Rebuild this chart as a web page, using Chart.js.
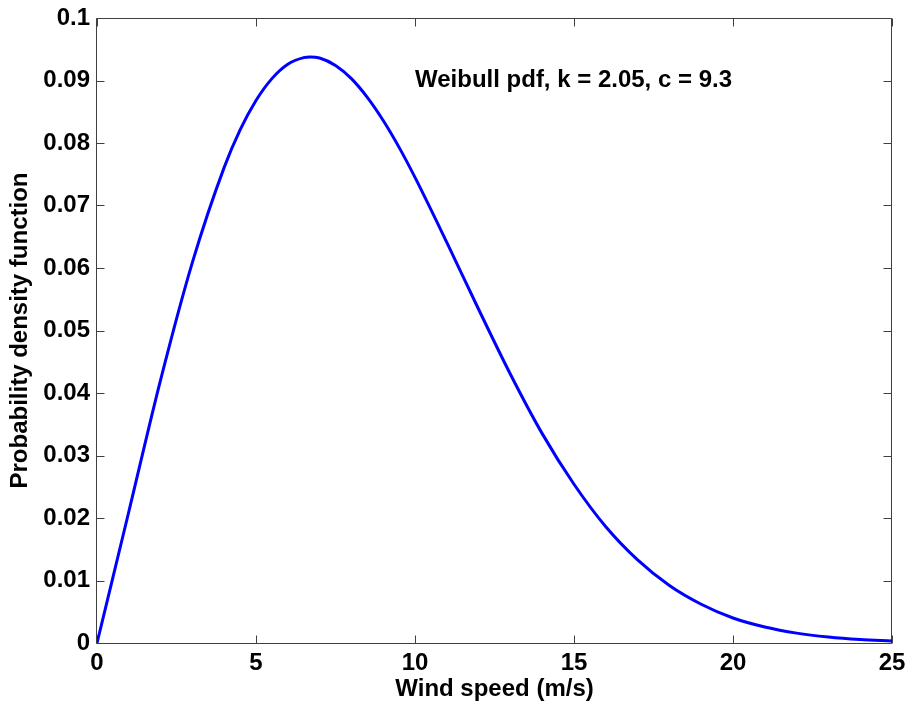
<!DOCTYPE html>
<html><head><meta charset="utf-8">
<script src="https://cdn.jsdelivr.net/npm/chart.js@4"></script>
<style>html,body{margin:0;padding:0;background:#fff;} #wrap{width:910px;height:708px;}</style>
</head><body><div id="wrap"><canvas id="c" width="910" height="708"></canvas></div>
<script>
// Wind speed (m/s) and probability density
const windSpeed = [0, 1, 2, 3, 4, 4.5, 5, 5.5, 6, 6.5, 6.7, 7, 7.5, 8, 8.5, 9, 9.5, 10, 11, 12, 13, 14, 15, 16, 17, 18, 19, 20, 21, 22, 23, 24, 25];
const pdfValues = [0, 0.0210, 0.0421, 0.0609, 0.0761, 0.0821, 0.0868, 0.0903, 0.0926, 0.09366, 0.09377, 0.0936, 0.0924, 0.0903, 0.0873, 0.0836, 0.0793, 0.0745, 0.0641, 0.0534, 0.0430, 0.0335, 0.0254, 0.0186, 0.0133, 0.0092, 0.0062, 0.0040, 0.00256, 0.00158, 0.00095, 0.00055, 0.00031];
const xTickLabels = ['0', '5', '10', '15', '20', '25'];
const yTickLabels = ['0', '0.01', '0.02', '0.03', '0.04', '0.05', '0.06', '0.07', '0.08', '0.09', '0.1'];
const xTitle = 'Wind speed (m/s)';
const yTitle = 'Probability density function';
const annotationText = 'Weibull pdf, k = 2.05, c = 9.3';
const annotationAt = [10, 0.09];

const FONT = {family: '"Liberation Sans", Arial, Helvetica, sans-serif', size: 24, weight: 'bold'};

const framePlugin = {
  id: 'frame',
  beforeDatasetsDraw(chart) {
    const {ctx, chartArea: {left, right, top, bottom}, scales: {x, y}} = chart;
    ctx.save();
    ctx.strokeStyle = '#404040';
    ctx.lineWidth = 1;
    const L = Math.round(left) - 0.5, R = Math.round(right) - 0.5, T = Math.round(top) + 0.5, B = Math.round(bottom) + 0.5;
    ctx.beginPath();
    ctx.rect(L, T, R - L, B - T);
    const tl = 8;
    x.ticks.forEach(t => {
      const px = Math.round(x.getPixelForValue(t.value)) + 0.5;
      ctx.moveTo(px, B); ctx.lineTo(px, B - tl);
      ctx.moveTo(px, T); ctx.lineTo(px, T + tl);
    });
    y.ticks.forEach(t => {
      const py = Math.round(y.getPixelForValue(t.value)) + 0.5;
      ctx.moveTo(L, py); ctx.lineTo(L + tl, py);
      ctx.moveTo(R, py); ctx.lineTo(R - tl, py);
    });
    ctx.stroke();
    ctx.restore();
  },
  afterDraw(chart) {
    const {ctx, scales: {x, y}} = chart;
    ctx.save();
    ctx.font = 'bold 24px "Liberation Sans", Arial, sans-serif';
    ctx.fillStyle = '#000';
    ctx.textAlign = 'left';
    ctx.textBaseline = 'middle';
    ctx.fillText(annotationText, x.getPixelForValue(annotationAt[0]), y.getPixelForValue(annotationAt[1]));
    ctx.restore();
  }
};

function zeroPad(s) { s.paddingTop = 0; s.paddingBottom = 0; s.paddingLeft = 0; s.paddingRight = 0; }

new Chart(document.getElementById('c'), {
  type: 'line',
  data: {
    datasets: [{
      data: windSpeed.map((v, i) => ({x: v, y: pdfValues[i]})),
      borderColor: '#0000ff',
      borderWidth: 3,
      pointRadius: 0,
      fill: false,
      cubicInterpolationMode: 'monotone'
    }]
  },
  options: {
    responsive: false,
    animation: false,
    devicePixelRatio: 1,
    layout: {padding: {top: 18, right: 18, left: 0, bottom: 0}},
    plugins: {legend: {display: false}, tooltip: {enabled: false}},
    scales: {
      x: {
        type: 'linear', min: 0, max: 25,
        grid: {display: false, drawTicks: false}, border: {display: false},
        ticks: {stepSize: 5, padding: 6, color: '#000', font: FONT, maxRotation: 0, autoSkip: false,
          callback: (v, i) => xTickLabels[i]},
        title: {display: true, text: xTitle, color: '#000', font: FONT, padding: {top: 0, bottom: 4}},
        afterFit(s) { s.height = 65; zeroPad(s); }
      },
      y: {
        type: 'linear', min: 0, max: 0.1,
        grid: {display: false, drawTicks: false}, border: {display: false},
        ticks: {stepSize: 0.01, padding: 7, color: '#000', font: FONT, autoSkip: false,
          callback: (v, i) => yTickLabels[i]},
        title: {display: true, text: yTitle, color: '#000', font: FONT, padding: {top: 6, bottom: 0}},
        afterFit(s) { s.width = 97; zeroPad(s); }
      }
    }
  },
  plugins: [framePlugin]
});
</script>
</body></html>
